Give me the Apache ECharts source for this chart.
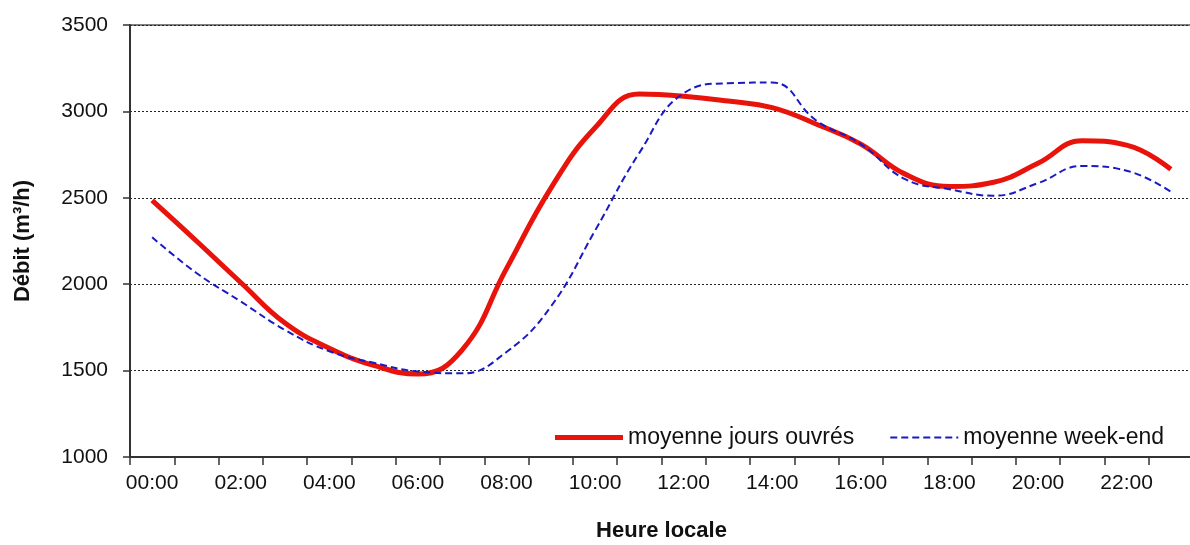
<!DOCTYPE html>
<html>
<head>
<meta charset="utf-8">
<script src="https://cdn.jsdelivr.net/npm/echarts@6/dist/echarts.min.js"></script>
<style>
  html, body { margin: 0; padding: 0; background: #fff; }
  #chart { width: 1190px; height: 545px; }
</style>
</head>
<body>
<div id="chart"></div>
<script>
const hours = ['00:00', '01:00', '02:00', '03:00', '04:00', '05:00', '06:00', '07:00',
  '08:00', '09:00', '10:00', '11:00', '12:00', '13:00', '14:00', '15:00',
  '16:00', '17:00', '18:00', '19:00', '20:00', '21:00', '22:00', '23:00'];

// moyenne jours ouvrés
const joursOuvres = [2485, 2250, 2010, 1775, 1630, 1530, 1480, 1620,
  2090, 2555, 2905, 3100, 3088, 3060, 3022, 2926,
  2811, 2637, 2566, 2590, 2700, 2830, 2805, 2665];

// moyenne week-end
const weekEnd = [2272, 2065, 1900, 1735, 1612, 1545, 1495, 1484,
  1608, 1870, 2310, 2760, 3105, 3163, 3167, 2946,
  2811, 2608, 2550, 2512, 2585, 2684, 2657, 2535];

const yTicks = { min: 1000, max: 3500, step: 500 };

const chart = echarts.init(document.getElementById('chart'));

const font = 'Liberation Sans, Arial, sans-serif';

chart.setOption({
  animation: false,
  textStyle: { fontFamily: font },
  grid: {
    left: 130,
    right: -3,
    top: 25,
    bottom: 88,
    containLabel: false,
    outerBoundsMode: 'none',
    show: true,
    borderColor: '#555',
    borderWidth: 1.5,
    backgroundColor: '#fff'
  },
  legend: {
    right: 21,
    top: 421,
    itemWidth: 68,
    itemHeight: 14,
    itemGap: 35,
    itemStyle: { opacity: 0 },
    textStyle: { fontSize: 23, color: '#111', fontFamily: font },
    data: [
      { name: 'moyenne jours ouvrés', lineStyle: { width: 5 } },
      { name: 'moyenne week-end', lineStyle: { width: 2 } }
    ]
  },
  xAxis: {
    type: 'category',
    data: hours,
    boundaryGap: true,
    name: 'Heure locale',
    nameLocation: 'middle',
    nameGap: 63,
    nameTextStyle: { fontSize: 22, fontWeight: 'bold', color: '#111' },
    axisLine: { lineStyle: { color: '#333', width: 2 } },
    axisTick: { show: true, interval: 0, length: 8, lineStyle: { color: '#333', width: 1.5 } },
    axisLabel: { interval: 1, fontSize: 21, color: '#111', margin: 16 },
    splitLine: { show: false }
  },
  yAxis: {
    type: 'value',
    min: yTicks.min,
    max: yTicks.max,
    interval: yTicks.step,
    name: 'Débit (m³/h)',
    nameLocation: 'middle',
    nameRotate: 90,
    nameGap: 96,
    nameTextStyle: { fontSize: 22, fontWeight: 'bold', color: '#111' },
    axisLine: { show: true, lineStyle: { color: '#333', width: 2 } },
    axisTick: { show: true, length: 7, lineStyle: { color: '#333', width: 1.5 } },
    axisLabel: { fontSize: 21, color: '#111', margin: 22, formatter: v => String(v) },
    splitLine: { show: true, lineStyle: { color: '#222', type: [2, 2], width: 1 } }
  },
  series: [
    {
      name: 'moyenne jours ouvrés',
      type: 'line',
      data: joursOuvres,
      smooth: 0.45,
      symbol: 'none',
      z: 3,
      color: '#e8140c',
      lineStyle: { color: '#e8140c', width: 5 }
    },
    {
      name: 'moyenne week-end',
      type: 'line',
      data: weekEnd,
      smooth: 0.45,
      symbol: 'none',
      z: 4,
      color: '#1a1ac4',
      lineStyle: { color: '#1a1ac4', width: 2, type: [7, 4] }
    }
  ]
});
</script>
</body>
</html>
